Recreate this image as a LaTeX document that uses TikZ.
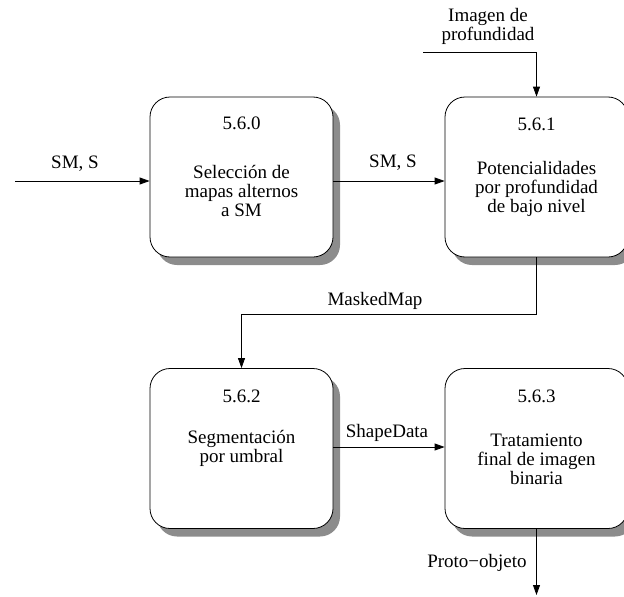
\documentclass[tikz,border=0pt]{standalone}
\usepackage{fontspec}
\setmainfont{Liberation Serif}
\usetikzlibrary{arrows.meta,shadows,calc}
\begin{document}
\begin{tikzpicture}[x=1pt,y=-1pt,
  proc/.style={draw=black, line width=0.8pt, fill=white, rounded corners=20pt,
    minimum width=183pt, minimum height=160pt, inner sep=0pt,
    drop shadow={shadow xshift=7pt, shadow yshift=-8pt, fill=black!45, opacity=1}},
  txt/.style={font=\fontsize{19}{19}\selectfont, align=center, inner sep=0pt},
  flow/.style={line width=0.8pt, -{Triangle[length=10pt,width=7pt]}},
  lbl/.style={font=\fontsize{19}{19}\selectfont, inner sep=0pt}]
\useasboundingbox (0,0) rectangle (624,597);

% process boxes
\node[proc] (b0) at (241.5,177) {};
\node[proc] (b1) at (536.5,177) {};
\node[proc] (b2) at (241.5,448.5) {};
\node[proc] (b3) at (536.5,448.5) {};

% box texts
\node[txt] (t0) at (241.5,123) {5.6.0};
\node[txt] (d0) at (241.5,190.5) {Selección de\\mapas alternos\\a SM};
\node[txt] (t1) at (536.5,124) {5.6.1};
\node[txt] (d1) at (536.5,189) {Potencialidades\\por profundidad\\de bajo nivel};
\node[txt] (t2) at (241.5,396) {5.6.2};
\node[txt] (d2) at (241.5,448) {Segmentación\\por umbral};
\node[txt] (t3) at (536.5,396) {5.6.3};
\node[txt] (d3) at (536.5,459) {Tratamiento\\final de imagen\\binaria};

% free ends of the connectors
\coordinate (in0) at (15,181);
\coordinate (in1) at (423,52);
\coordinate (out3) at (536.5,595);

% connectors
\draw[flow] (in0) -- (in0 -| b0.west);
\draw[flow] (b0.east |- in0) -- (b1.west |- in0);
\draw[flow] (in1) -- (in1 -| b1.north) -- (b1.north);
\draw[flow] (b1.south) |- (241.5,314) -- (b2.north);
\draw[flow] (b2.east |- 0,447) -- (b3.west |- 0,447);
\draw[flow] (b3.south) -- (out3);

% connector labels
\node[lbl] (l0) at (75,164) {SM, S};
\node[lbl] (l1) at (393,163) {SM, S};
\node[txt] (l2) at (488,26.5) {Imagen de\\profundidad};
\node[lbl] (l3) at (375,301) {MaskedMap};
\node[lbl] (l4) at (387,433) {ShapeData};
\node[lbl] (l5) at (477,563) {Proto−objeto};
\end{tikzpicture}
\end{document}
